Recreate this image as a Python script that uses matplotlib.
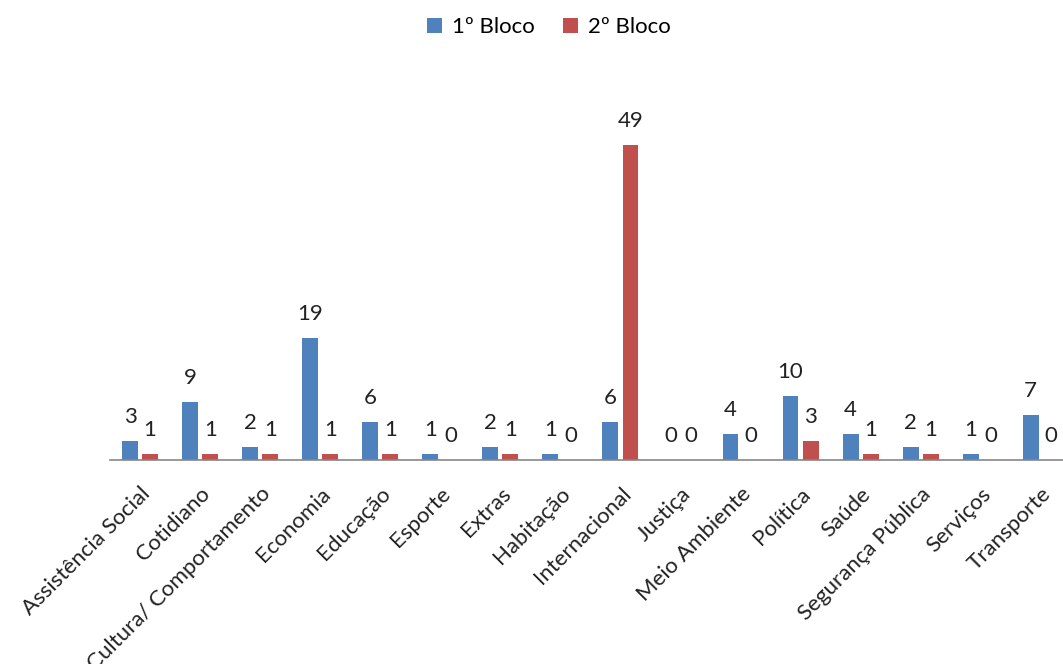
import matplotlib.pyplot as plt
import numpy as np

plt.rcParams['font.family'] = ['Lato', 'DejaVu Sans']

categorias = ["Assistência Social", "Cotidiano", "Cultura/ Comportamento", "Economia",
              "Educação", "Esporte", "Extras", "Habitação", "Internacional", "Justiça",
              "Meio Ambiente", "Política", "Saúde", "Segurança Pública", "Serviços",
              "Transporte"]
bloco1 = [3, 9, 2, 19, 6, 1, 2, 1, 6, 0, 4, 10, 4, 2, 1, 7]
bloco2 = [1, 1, 1, 1, 1, 0, 1, 0, 49, 0, 0, 3, 1, 1, 0, 0]

azul = "#4F81BD"
vermelho = "#C0504D"

fig = plt.figure(figsize=(10.63, 6.64), dpi=100)
ax = fig.add_axes([0.1035, 0.307, 0.8965, 0.582])

x = np.arange(len(categorias))
w = 0.265
b1 = ax.bar(x - 0.035 - w / 2, bloco1, w, color=azul, label="1º Bloco")
b2 = ax.bar(x + 0.035 + w / 2, bloco2, w, color=vermelho, label="2º Bloco")

# rótulos de valor acima de cada barra
for barras in (b1, b2):
    for r in barras:
        ax.annotate(f"{int(r.get_height())}",
                    (r.get_x() + r.get_width() / 2, r.get_height()),
                    xytext=(0, 10), textcoords="offset points",
                    ha="center", va="bottom", fontsize=16, color="#222222")

ax.set_ylim(0, 60)
ax.set_xlim(-0.5, 15.37)
ax.set_yticks([])
ax.set_xticks(x)
ax.set_xticklabels(categorias, rotation=45, ha="right", rotation_mode="anchor",
                   fontsize=16, color="#222222")
ax.tick_params(axis="x", length=0, pad=17)
for s in ("top", "right", "left"):
    ax.spines[s].set_visible(False)
ax.spines["bottom"].set_color("#868686")
ax.spines["bottom"].set_linewidth(1.2)

fig.legend(handles=[b1, b2], loc="center", bbox_to_anchor=(549 / 1063, 1 - 27 / 664),
           ncol=2, frameon=False, fontsize=16, handlelength=0.65, handleheight=0.65,
           columnspacing=1.3, handletextpad=0.45)

fig.savefig("out.png", dpi=100)
